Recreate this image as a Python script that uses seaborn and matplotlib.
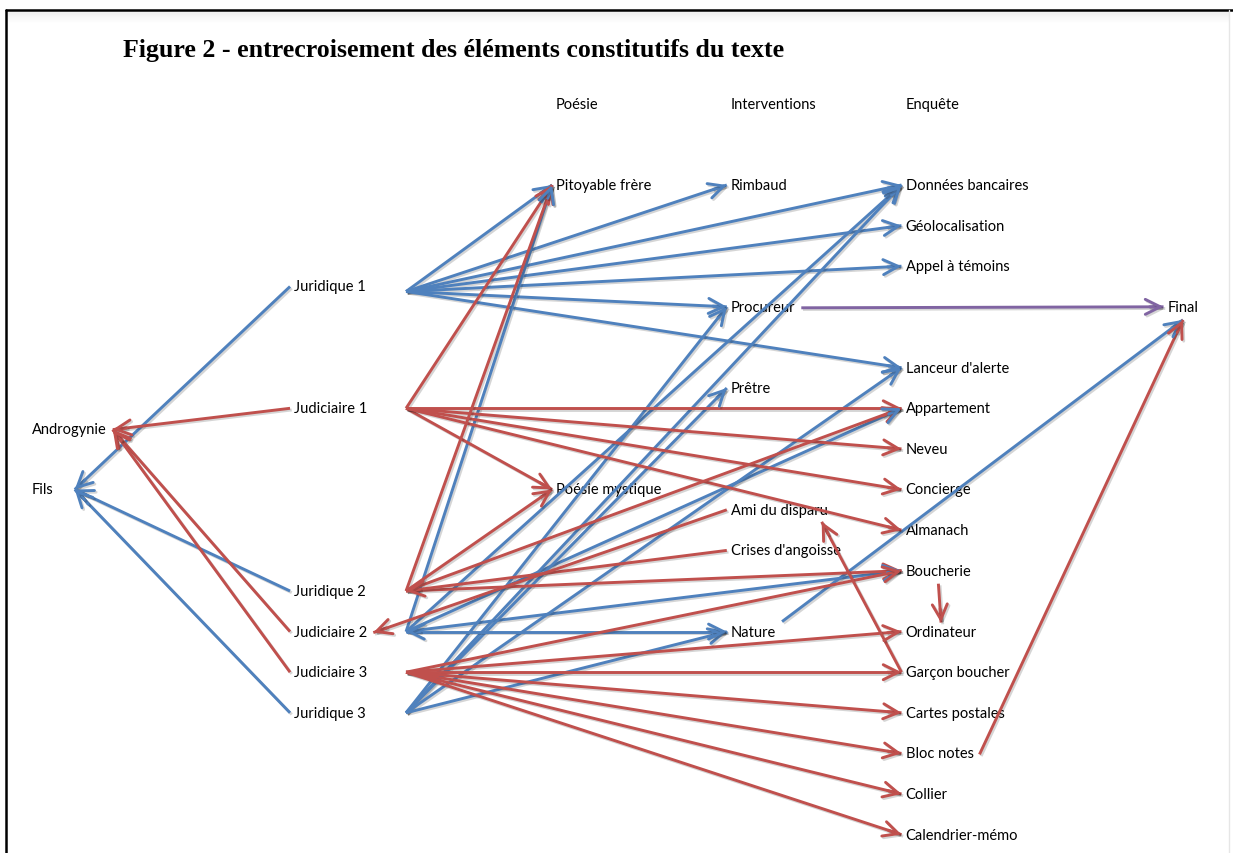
import numpy as np
import pandas as pd
import matplotlib
matplotlib.use("Agg")
import matplotlib.pyplot as plt
import matplotlib.patheffects as pe
from matplotlib.lines import Line2D
import seaborn as sns

# Données du schéma
titre = "Figure 2 - entrecroisement des éléments constitutifs du texte"
entetes = ["Poésie", "Interventions", "Enquête"]
entetes_colonne = [2, 3, 4]

noeuds = ["Androgynie", "Fils",
          "Juridique 1", "Judiciaire 1", "Juridique 2", "Judiciaire 2", "Judiciaire 3", "Juridique 3",
          "Pitoyable frère", "Poésie mystique",
          "Rimbaud", "Procureur", "Prêtre", "Ami du disparu", "Crises d'angoisse", "Nature",
          "Données bancaires", "Géolocalisation", "Appel à témoins", "Lanceur d'alerte",
          "Appartement", "Neveu", "Concierge", "Almanach", "Boucherie", "Ordinateur",
          "Garçon boucher", "Cartes postales", "Bloc notes", "Collier", "Calendrier-mémo",
          "Final"]
noeud_colonne = [0, 0,
                 1, 1, 1, 1, 1, 1,
                 2, 2,
                 3, 3, 3, 3, 3, 3,
                 4, 4, 4, 4, 4, 4, 4, 4, 4, 4, 4, 4, 4, 4, 4,
                 5]
noeud_rang = [6, 7.5,
              2.5, 5.5, 10, 11, 12, 13,
              0, 7.5,
              0, 3, 5, 8, 9, 11,
              0, 1, 2, 4.5, 5.5, 6.5, 7.5, 8.5, 9.5, 11, 12, 13, 14, 15, 16,
              3]

# liens partant des "noeuds" à droite de chaque source
depuis_juridique_1 = ["Pitoyable frère", "Rimbaud", "Données bancaires", "Géolocalisation",
                      "Appel à témoins", "Procureur", "Lanceur d'alerte"]
depuis_judiciaire_1 = ["Pitoyable frère", "Poésie mystique", "Appartement", "Neveu",
                       "Concierge", "Almanach"]
depuis_juridique_2 = ["Pitoyable frère", "Poésie mystique", "Appartement", "Boucherie"]
depuis_judiciaire_2 = ["Pitoyable frère", "Données bancaires", "Appartement", "Boucherie"]
depuis_judiciaire_3 = ["Boucherie", "Ordinateur", "Garçon boucher", "Cartes postales",
                       "Bloc notes", "Collier", "Calendrier-mémo"]
depuis_juridique_3 = ["Procureur", "Données bancaires", "Prêtre", "Lanceur d'alerte", "Nature"]
vers_fils = ["Juridique 1", "Juridique 2", "Juridique 3"]
vers_androgynie = ["Judiciaire 1", "Judiciaire 2", "Judiciaire 3"]

# autres liens : source, ancre source, cible, ancre cible, couleur, double flèche
autres_liens = [
    ("Crises d'angoisse", "G", "Juridique 2", "H", "rouge", False),
    ("Ami du disparu", "G", "Judiciaire 2", "D", "rouge", False),
    ("Nature", "G", "Judiciaire 2", "H", "bleu", True),
    ("Procureur", "D", "Final", "G", "violet", False),
    ("Nature", "DH", "Final", "B", "bleu", False),
    ("Bloc notes", "D", "Final", "B", "rouge", False),
    ("Boucherie", "B", "Ordinateur", "T", "rouge", False),
    ("Garçon boucher", "G", "Ami du disparu", "BD", "rouge", False),
]

# Mise en page
W, H = 1233, 854
col_x = [0, 1.5, 3, 4, 5, 6.5]
couleurs = {"bleu": "#4F81BD", "rouge": "#C0504D", "violet": "#8064A2"}
# ancres : fraction x, fraction y (0 = haut), décalage x px, décalage y px (vers le bas)
ancres = {"G": (0, 0.5, -4, 0), "D": (1, 0.5, 6, 1), "H": (0, 0.5, 112, 0),
          "B": (0.5, 1, 0, 6), "T": (0.5, 0, 0, -2), "DH": (1, 0.5, 6, -10),
          "BD": (1, 1, -6, 5), "DF": (1, 0.5, 21, 0)}
decalage_noeud = {"Juridique 1": 5}

sns.set_theme(style="white")
plt.rcParams["font.family"] = ["Lato", "DejaVu Sans"]

fig = plt.figure(figsize=(W / 100, H / 100), dpi=100)
ax = fig.add_axes([0, 0, 1, 1])
xlim = (-32 / 174.7, (W - 32) / 174.7)
ylim = ((H - 186) / 40.6, -186 / 40.6)
ax.set_xlim(*xlim)
ax.set_ylim(*ylim)
ax.set_autoscale_on(False)
ax.set_axis_off()

# textes
textes = {}
for nom, c, r in zip(noeuds, noeud_colonne, noeud_rang):
    textes[nom] = ax.text(col_x[c], r, nom, ha="left", va="center", fontsize=10.5,
                          color="black", zorder=1)
for nom, c in zip(entetes, entetes_colonne):
    ax.text(col_x[c], -2, nom, ha="left", va="center", fontsize=10.5, color="black", zorder=1)

fig.text(123 / W, 1 - 51 / H, titre, ha="left", va="center", fontsize=18.6,
         fontweight="bold", color="black", family=["Liberation Serif", "DejaVu Serif"])

fig.canvas.draw()
rendu = fig.canvas.get_renderer()
inv = ax.transData.inverted()


def ancre(nom, code):
    bb = textes[nom].get_window_extent(rendu)
    fx, fy, dx, dy = ancres[code]
    if code == "H":
        dy += decalage_noeud.get(nom, 0)
    X = bb.x0 + fx * bb.width + dx
    Y = bb.y1 - fy * bb.height - dy
    return inv.transform((X, Y))


liens = []
for cible in depuis_juridique_1:
    liens.append(("Juridique 1", "H", cible, "G", "bleu", False))
for cible in depuis_judiciaire_1:
    liens.append(("Judiciaire 1", "H", cible, "G", "rouge", False))
for cible in depuis_juridique_2:
    liens.append(("Juridique 2", "H", cible, "G", "rouge", False))
for cible in depuis_judiciaire_2:
    liens.append(("Judiciaire 2", "H", cible, "G", "bleu", False))
for cible in depuis_judiciaire_3:
    liens.append(("Judiciaire 3", "H", cible, "G", "rouge", False))
for cible in depuis_juridique_3:
    liens.append(("Juridique 3", "H", cible, "G", "bleu", False))
for src in vers_fils:
    liens.append((src, "G", "Fils", "DF", "bleu", False))
for src in vers_androgynie:
    liens.append((src, "G", "Androgynie", "D", "rouge", False))
liens += autres_liens

lignes = []
fleches = []
for i, (s, a_s, c, a_c, coul, double) in enumerate(liens):
    p0 = ancre(s, a_s)
    p1 = ancre(c, a_c)
    lignes.append({"x": p0[0], "y": p0[1], "lien": i, "couleur": coul})
    lignes.append({"x": p1[0], "y": p1[1], "lien": i, "couleur": coul})
    fleches.append((p0, p1, coul))
    if double:
        fleches.append((p1, p0, coul))
df = pd.DataFrame(lignes)

sns.lineplot(data=df, x="x", y="y", units="lien", hue="couleur", palette=couleurs,
             estimator=None, sort=False, legend=False, lw=2.1, ax=ax, zorder=2)
ombre = [pe.SimpleLineShadow(offset=(1.2, -1.2), alpha=0.18), pe.Normal()]
for ln in ax.lines:
    ln.set_path_effects(ombre)
    ln.set_solid_capstyle("butt")

# pointes de flèches
for p0, p1, coul in fleches:
    d0 = ax.transData.transform(p0)
    d1 = ax.transData.transform(p1)
    v = (d1 - d0) / np.hypot(*(d1 - d0))
    arr = inv.transform(d1 - 14 * v)
    ax.annotate("", xy=p1, xytext=arr,
                arrowprops=dict(arrowstyle="->,head_length=0.9,head_width=0.45",
                                color=couleurs[coul], lw=2.1, shrinkA=0, shrinkB=0,
                                path_effects=ombre),
                zorder=3)

ax.set_xlim(*xlim)
ax.set_ylim(*ylim)

# cadre
fig.add_artist(Line2D([6 / W, 1], [1 - 11 / H] * 2, color="black", lw=1.8))
fig.add_artist(Line2D([6 / W] * 2, [0, 1 - 11 / H], color="black", lw=1.8))
fig.add_artist(Line2D([1229 / W] * 2, [0, 1 - 11 / H], color="#e6e6e6", lw=1.0))
for k in range(1, 12):
    fig.add_artist(Line2D([8 / W, 1228 / W], [1 - (12 + k) / H] * 2,
                          color="black", alpha=0.05 * (1 - k / 12), lw=1.0))

fig.savefig("out.png", dpi=100)
